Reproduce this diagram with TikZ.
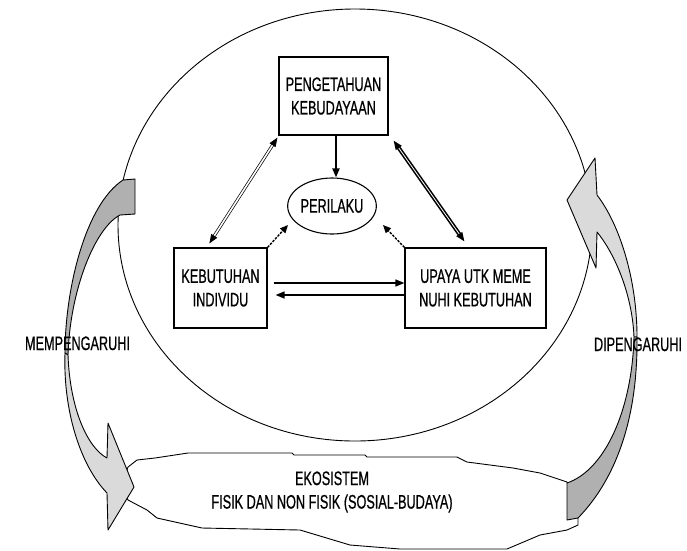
\documentclass[tikz,border=0pt]{standalone}
\usepackage{fontspec}
\setmainfont{Liberation Sans}[FakeStretch=0.65, FakeBold=0.6]
\usetikzlibrary{arrows.meta,shapes.geometric}
\definecolor{gd}{RGB}{176,176,176}
\definecolor{gl}{RGB}{218,218,218}
\begin{document}
\begin{tikzpicture}[x=1pt,y=-1pt,
  every node/.style={font=\fontsize{19.5}{23.5}\selectfont, align=center, inner sep=0pt},
  boxnode/.style={draw, line width=1.2pt, minimum height=80pt},
  tipA/.style={-{Triangle[length=9pt,width=7pt]}},
  tipB/.style={{Triangle[length=9pt,width=7pt]}-{Triangle[length=9pt,width=7pt]}},
  dotarrow/.style={-{Triangle[length=8pt,width=7pt]}, dash pattern=on 2.5pt off 1.2pt, line width=1.4pt},
  shapeline/.style={line width=0.9pt, line join=round}]
\useasboundingbox (0,0) rectangle (687,550);

% big ellipse
\node[draw, ellipse, line width=0.9pt, minimum width=474pt, minimum height=432pt] (world) at (355,225) {};

% ekosistem blob
\draw[shapeline, fill=white] (122,484) -- (128,467) -- (137,460) -- (155,458) -- (188,453) -- (292,453) -- (294,455) -- (365,455) -- (367,457) -- (457,457) -- (467,462) -- (513,468) -- (540,473) -- (567,482) -- (575,500) -- (578,518) -- (578,525) -- (567,530) -- (540,535) -- (507,549) -- (400,549) -- (350,545) -- (300,530) -- (202,528) -- (157,518) -- (147,510) -- (128,500) -- cycle;
\node (eko) at (332,492) {EKOSISTEM\\FISIK DAN NON FISIK (SOSIAL-BUDAYA)};

% boxes
\node[boxnode, minimum width=109pt, minimum height=78pt] (peng) at (333.5,96) {PENGETAHUAN\\KEBUDAYAAN};
\node[draw, ellipse, line width=1.1pt, minimum width=86pt, minimum height=56pt] (peri) at (332,206) {\raisebox{-3pt}{PERILAKU}};
\node[boxnode, minimum width=93pt] (keb) at (220.5,288) {KEBUTUHAN\\INDIVIDU};
\node[boxnode, minimum width=141pt] (upaya) at (475.5,288) {UPAYA UTK MEME\\NUHI KEBUTUHAN};

% connectors
\draw[tipA, line width=1.8pt] ([xshift=2.5pt]peng.south) -- ([xshift=4pt]peri.north);
\draw[tipB, double, double distance=1.6pt, line width=0.7pt] ([shift={(36pt,4pt)}]keb.north west) -- ([shift={(-1pt,-2pt)}]peng.south west);
\draw[tipB, double=white, double distance=0.8pt, line width=1.6pt] ([shift={(5pt,-5pt)}]peng.south east) -- ([shift={(60pt,6pt)}]upaya.north west);
\draw[dotarrow] (keb.north east) -- ([shift={(-44pt,-19pt)}]peri.center);
\draw[dotarrow] (upaya.north west) -- ([shift={(51pt,-19pt)}]peri.center);
\draw[tipA, line width=1.5pt] ([shift={(6pt,5pt)}]keb.east) -- ([yshift=5pt]upaya.west);
\draw[tipA, line width=1.5pt] ([yshift=-7pt]upaya.west) -- ([shift={(8pt,-7pt)}]keb.east);

% left curved arrow (MEMPENGARUHI)
\filldraw[shapeline, fill=gd] (123,180) -- (135,179) -- (135,214) -- (120,215) .. controls (95,228) and (70,290) .. (68,355) -- (65,353) .. controls (65,290) and (85,205) .. cycle;
\filldraw[shapeline, fill=gl] (68,355) .. controls (70,410) and (88,448) .. (107,458) -- (108,423) -- (134,487) -- (108,530) -- (107,493) .. controls (80,465) and (63,410) .. (65,353) -- cycle;

% right curved arrow (DIPENGARUHI)
\filldraw[shapeline, fill=gl] (567,200) -- (595,158) -- (597,195) .. controls (620,225) and (637,280) .. (637,337) -- (634,337) .. controls (632,290) and (612,250) .. (597,232) -- (596,268) -- cycle;
\filldraw[shapeline, fill=gd] (634,337) .. controls (632,410) and (605,470) .. (567,483) -- (567,520) -- (578,518) .. controls (615,480) and (638,420) .. (637,337) -- cycle;

% labels
\node[anchor=base] (mem) at (77.5,350) {MEMPENGARUHI};
\node[anchor=base] (dip) at (638,351) {DIPENGARUHI};
\end{tikzpicture}
\end{document}
